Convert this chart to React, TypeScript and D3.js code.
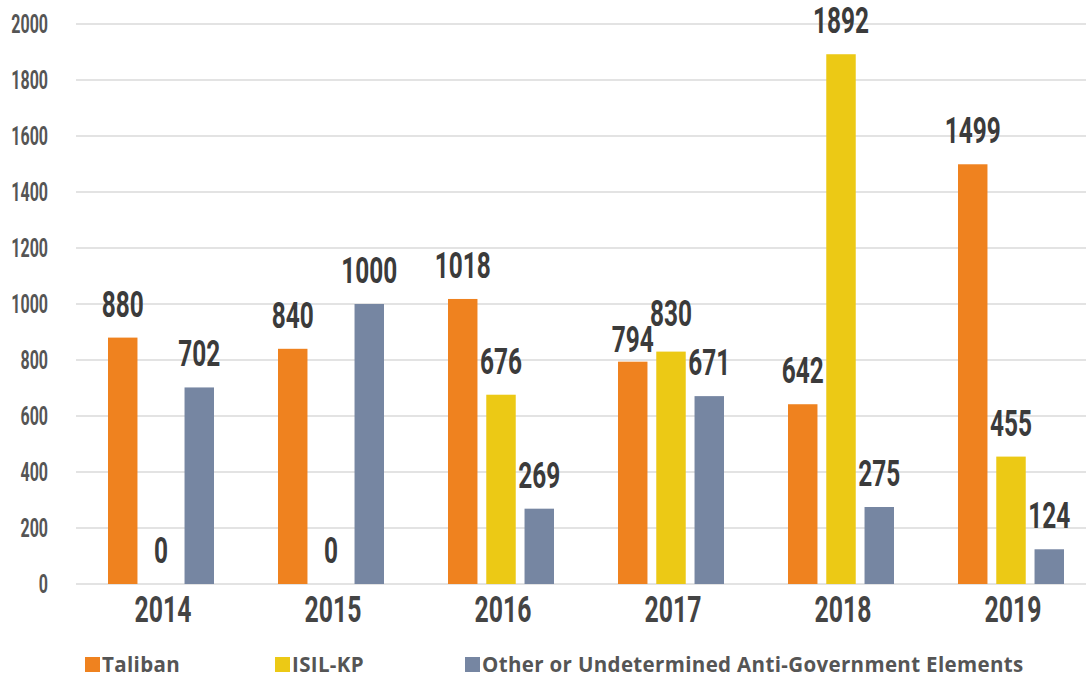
import React from "react";
import * as d3 from "d3";

const years = ["2014", "2015", "2016", "2017", "2018", "2019"];
const seriesKeys = ["Taliban", "ISIL-KP", "Other"];
const seriesLabels = ["Taliban", "ISIL-KP", "Other or Undetermined Anti-Government Elements"];
const taliban = [880, 840, 1018, 794, 642, 1499];
const isilkp = [0, 0, 676, 830, 1892, 455];
const other = [702, 1000, 269, 671, 275, 124];
const yTicks = [0, 200, 400, 600, 800, 1000, 1200, 1400, 1600, 1800, 2000];
const colors = ["#EF821F", "#ECC915", "#7686A2"];

// small label nudges (in px) for crowded 2017 group
const labelNudge: Record<string, number> = { "2017-Taliban": 11, "2017-ISIL-KP": -5 };

const W = 1086;
const H = 677;

function CondText({ x, y, size, scale, anchor, fill, children }: any) {
  return (
    <g transform={`translate(${x},${y}) scale(${scale},1)`}>
      <text
        x={0}
        y={0}
        fontFamily="Roboto, 'Liberation Sans', sans-serif"
        fontWeight={700}
        fontSize={size}
        textAnchor={anchor}
        fill={fill}
      >
        {children}
      </text>
    </g>
  );
}

export default function App() {
  const series = [taliban, isilkp, other];
  const x0 = d3.scaleBand<string>().domain(years).range([76, 1096]).paddingInner(0).paddingOuter(0);
  const x1 = d3.scaleBand<string>().domain(seriesKeys).range([32, 138]).paddingInner(0.23).paddingOuter(0);
  const y = d3.scaleLinear().domain([0, 2000]).range([584, 24]);

  return (
    <svg width={W} height={H} style={{ position: "absolute", left: 0, top: 0, background: "#fff" }}>
      {yTicks.map((t) => (
        <g key={t}>
          <line x1={76} x2={W} y1={y(t)} y2={y(t)} stroke="#dadada" strokeWidth={1.6} />
          <CondText x={48} y={y(t) + 9} size={25} scale={0.64} anchor="end" fill="#555">
            {t}
          </CondText>
        </g>
      ))}
      {years.map((yr, i) => (
        <g key={yr}>
          {seriesKeys.map((k, j) => {
            const v = series[j][i];
            const bx = (x0(yr) as number) + (x1(k) as number);
            const bw = x1.bandwidth();
            const nudge = labelNudge[`${yr}-${k}`] || 0;
            return (
              <g key={k}>
                {v > 0 && <rect x={bx} y={y(v)} width={bw} height={y(0) - y(v)} fill={colors[j]} />}
                <CondText x={bx + bw / 2} y={y(v) - 21 + nudge} size={37} scale={0.66} anchor="middle" fill="#3b3b3b">
                  {v}
                </CondText>
              </g>
            );
          })}
          <CondText x={(x0(yr) as number) + x0.bandwidth() / 2 + 2} y={622} size={37} scale={0.67} anchor="middle" fill="#444">
            {yr}
          </CondText>
        </g>
      ))}
      {seriesLabels.map((lab, j) => {
        const lx = [85, 275, 465][j];
        return (
          <g key={lab}>
            <rect x={lx} y={657} width={15} height={15} fill={colors[j]} />
            <text
              x={lx + 17}
              y={672}
              fontFamily="'Open Sans', sans-serif"
              fontWeight={700}
              fontSize={20.5}
              letterSpacing={0.35}
              fill="#555"
            >
              {lab}
            </text>
          </g>
        );
      })}
    </svg>
  );
}
